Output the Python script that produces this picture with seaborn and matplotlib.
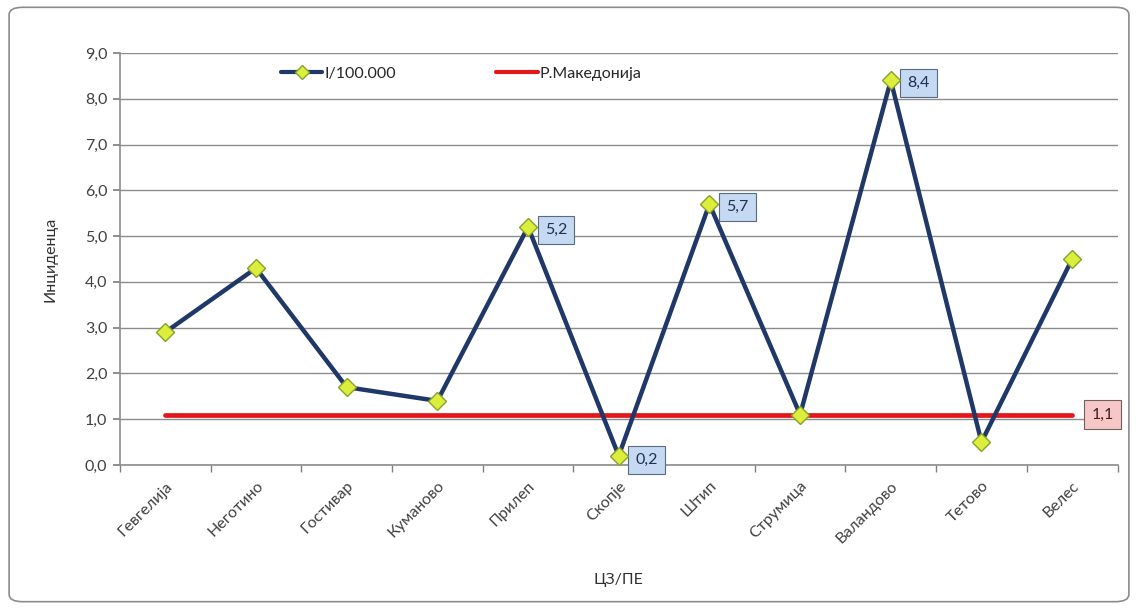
import matplotlib
matplotlib.use("Agg")
import matplotlib.pyplot as plt
import seaborn as sns
import pandas as pd
from matplotlib.patches import FancyBboxPatch
from matplotlib.lines import Line2D

categories = ["Гевгелија", "Неготино", "Гостивар", "Куманово", "Прилеп", "Скопје",
              "Штип", "Струмица", "Валандово", "Тетово", "Велес"]
incidence = [2.9, 4.3, 1.7, 1.4, 5.2, 0.2, 5.7, 1.1, 8.4, 0.5, 4.5]
national = [1.1] * 11
labelled = ["Прилеп", "Скопје", "Штип", "Валандово"]
yticks = [0, 1, 2, 3, 4, 5, 6, 7, 8, 9]

sns.set_theme(style="white")
plt.rcParams['font.family'] = ['Lato', 'DejaVu Sans']

df = pd.DataFrame({"cat": categories, "x": range(len(categories)),
                   "inc": incidence, "nat": national})

fig = plt.figure(figsize=(11.38, 6.09), dpi=100)
frame = FancyBboxPatch((0.008, 0.012), 0.984, 0.976, boxstyle="round,pad=0,rounding_size=0.012",
                       transform=fig.transFigure, facecolor="white", edgecolor="#8c8c8c", lw=1.2, zorder=-10)
fig.patches.append(frame)
ax = fig.add_axes([0.1054, 0.2365, 0.8766, 0.6765])
ax.set_facecolor("none")

sns.lineplot(data=df, x="x", y="nat", ax=ax, color="#e3161b", lw=3.4, zorder=3)
sns.lineplot(data=df, x="x", y="inc", ax=ax, color="#1f3868", lw=3.2, marker="D",
             markersize=9, markerfacecolor="#dbee3c", markeredgecolor="#8aa02a",
             markeredgewidth=1.0, zorder=4)

ax.set_xlim(-0.5, len(categories) - 0.5)
ax.set_ylim(0, 9)
ax.set_yticks(yticks)
ax.set_yticklabels([f"{v:.1f}".replace(".", ",") for v in yticks], fontsize=11.5, color="#404040")
ax.set_xticks(range(len(categories)))
ax.set_xticklabels(categories, rotation=45, ha="right", rotation_mode="anchor", fontsize=11.5, color="#404040")
ax.set_xticks([i - 0.5 for i in range(len(categories) + 1)], minor=True)
ax.tick_params(axis="x", which="major", length=0, pad=10)
ax.tick_params(axis="x", which="minor", length=5, color="#808080", direction="out", bottom=True)
ax.tick_params(axis="y", length=5, color="#808080", direction="out", left=True, pad=4)
ax.grid(axis="y", color="#8c8c8c", lw=1.0)
ax.set_axisbelow(True)
for s in ["top", "right"]:
    ax.spines[s].set_visible(False)
for s in ["left", "bottom"]:
    ax.spines[s].set_color("#8c8c8c")
    ax.spines[s].set_linewidth(1.2)

ax.set_ylabel("Инциденца", fontsize=11.5, color="#303030", labelpad=20)
ax.set_xlabel("ЦЗ/ПЕ", fontsize=11.5, color="#303030", labelpad=20)

for c in labelled:
    i = categories.index(c)
    v = incidence[i]
    ax.annotate(f"{v:.1f}".replace(".", ","), (i, v), xytext=(12, -2 if v > 1 else -3), textcoords="offset points",
                ha="left", va="center", fontsize=11.5, color="#1f3050",
                bbox=dict(boxstyle="square,pad=0.45", fc="#c5d9f3", ec="#5a6a80", lw=0.8))
ax.annotate(f"{national[-1]:.1f}".replace(".", ","), (len(categories) - 1, national[-1]),
            xytext=(14, 0), textcoords="offset points", ha="left", va="center",
            fontsize=11.5, color="#402020",
            bbox=dict(boxstyle="square,pad=0.45", fc="#f7c6c6", ec="#706060", lw=0.8))

handles = [Line2D([], [], color="#1f3868", lw=3, marker="D", markersize=7,
                  markerfacecolor="#dbee3c", markeredgecolor="#8aa02a"),
           Line2D([], [], color="#e3161b", lw=3)]
ax.legend(handles, ["I/100.000", "Р.Македонија"], loc="center left", bbox_to_anchor=(0.147, 0.95),
          ncol=2, frameon=False, fontsize=11.5, handlelength=2.6, handletextpad=0.1, columnspacing=6.3)

fig.savefig("out.png", dpi=100)
